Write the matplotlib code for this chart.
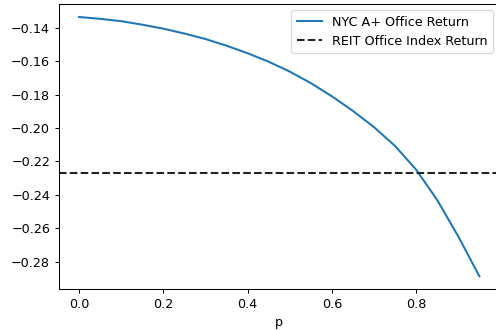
import matplotlib
matplotlib.use("Agg")
import matplotlib.pyplot as plt

# Data
p_values = [0.00, 0.05, 0.10, 0.15, 0.20, 0.25, 0.30, 0.35, 0.40, 0.45,
            0.50, 0.55, 0.60, 0.65, 0.70, 0.75, 0.80, 0.85, 0.90, 0.95]
nyc_return = [-0.1335, -0.1346, -0.1360, -0.1381, -0.1405, -0.1434, -0.1467,
              -0.1507, -0.1552, -0.1603, -0.1662, -0.1731, -0.1810, -0.1898,
              -0.1995, -0.2108, -0.2250, -0.2432, -0.2650, -0.2888]
reit_return = -0.2272

DPI = 92
fig = plt.figure(figsize=(496 / DPI, 330 / DPI), dpi=DPI)
ax = fig.add_axes([0.119, 0.1233, 0.888, 0.8645])

ax.plot(p_values, nyc_return, color="#1f77b4", lw=1.6, label="NYC A+ Office Return")
ax.axhline(reit_return, color="#222222", ls="--", lw=1.6, label="REIT Office Index Return")

ax.set_xticks([0.0, 0.2, 0.4, 0.6, 0.8])
ax.set_yticks([-0.14, -0.16, -0.18, -0.20, -0.22, -0.24, -0.26, -0.28])
ax.set_xlabel("p", fontsize=10)
ax.tick_params(labelsize=10)
ax.legend(loc="upper right", fontsize=10)

fig.savefig("out.png", dpi=DPI)
